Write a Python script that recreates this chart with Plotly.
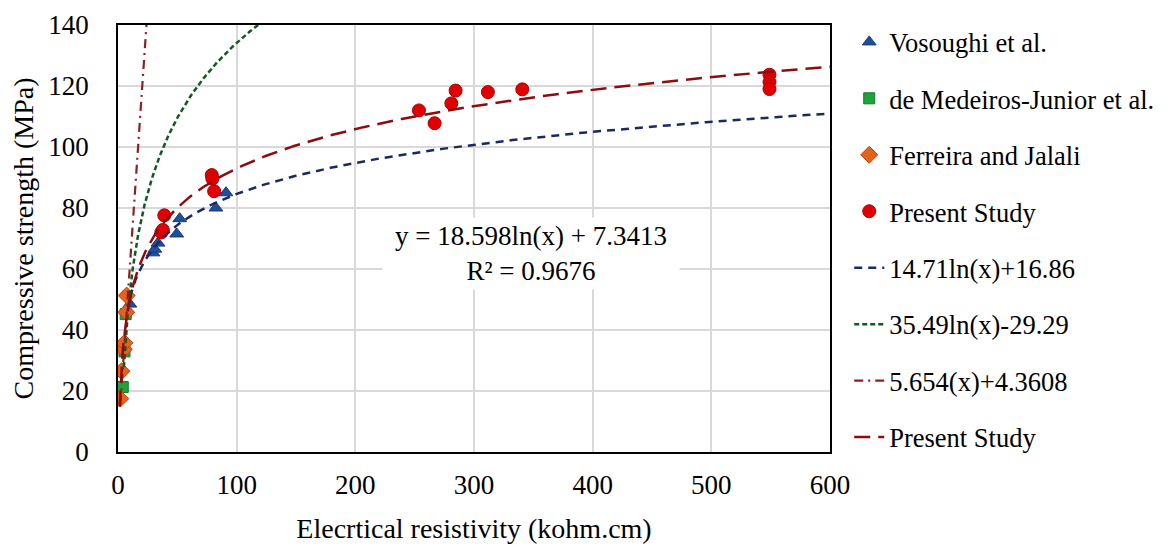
import numpy as np
import plotly.graph_objects as go

# ---- data ----
vos_x = [10, 29.5, 31, 33.7, 49.5, 52, 82.5, 91]
vos_y = [48.5, 65.3, 66.5, 68.5, 71.5, 76.5, 80.0, 85.0]

med_x = [4, 5.5, 6.5]
med_y = [21.3, 33.0, 45.2]

fer_x = [2, 3, 5, 5.5, 7, 7.3]
fer_y = [17.5, 26.5, 33.7, 35.8, 45.8, 51.3]

pres_x = [36.5, 37.8, 39, 79, 79.5, 81, 253.6, 266.8, 280.9, 284.5, 311.7, 340.7, 549, 549, 549]
pres_y = [72.0, 72.8, 77.6, 90.8, 89.6, 85.5, 112.0, 107.8, 114.3, 118.5, 118.0, 118.9, 123.7, 121.3, 119.0]

# trendline coefficients (from legend / equation label)
vos_fit = (14.71, 16.86)      # a*ln(x)+b
med_fit = (35.49, -29.29)     # a*ln(x)+b
fer_fit = (5.654, 4.3608)     # a*x+b
pres_fit = (18.598, 7.3413)   # a*ln(x)+b

x_ticks = [0, 100, 200, 300, 400, 500, 600]
y_ticks = [0, 20, 40, 60, 80, 100, 120, 140]

FONT = "Liberation Serif, Times New Roman, serif"

fig = go.Figure()

def mk(name, x, y, symbol, color, line_color, size):
    fig.add_trace(go.Scatter(
        x=x, y=y, mode="markers", name=name, legendgroup=name,
        marker=dict(symbol=symbol, color=color, size=size,
                    line=dict(color=line_color, width=1))))

mk("Vosoughi et al.", vos_x, vos_y, "triangle-up", "#1f4e9a", "#163a75", 12)
mk("de Medeiros-Junior et al.", med_x, med_y, "square", "#1fa33c", "#127a28", 11)
mk("Ferreira and Jalali", fer_x, fer_y, "diamond", "#e4621c", "#c0400c", 13)
mk("Present Study", pres_x, pres_y, "circle", "#e00000", "#b00000", 13)

xs_vos = np.linspace(10, 600, 400)
fig.add_trace(go.Scatter(x=xs_vos, y=vos_fit[0]*np.log(xs_vos)+vos_fit[1], mode="lines",
                         name="14.71ln(x)+16.86", legendgroup="l1",
                         line=dict(color="#1b2a5e", width=2.5, dash="8px,6px")))
xs_med = np.linspace(5, 120, 400)
fig.add_trace(go.Scatter(x=xs_med, y=med_fit[0]*np.log(xs_med)+med_fit[1], mode="lines",
                         name="35.49ln(x)-29.29", legendgroup="l2",
                         line=dict(color="#0e5a22", width=2.5, dash="5px,3px")))
xs_fer = np.linspace(2, 24, 100)
fig.add_trace(go.Scatter(x=xs_fer, y=fer_fit[0]*xs_fer+fer_fit[1], mode="lines",
                         name="5.654(x)+4.3608", legendgroup="l3",
                         line=dict(color="#8e2020", width=2.2, dash="9px,5px,2px,5px")))
xs_pres = np.linspace(1.5, 600, 800)
fig.add_trace(go.Scatter(x=xs_pres, y=pres_fit[0]*np.log(xs_pres)+pres_fit[1], mode="lines",
                         name="Present Study", legendgroup="l4",
                         line=dict(color="#8b0d0d", width=2.5, dash="16px,8px")))

fig.add_annotation(x=348, y=65, xref="x", yref="y",
                   text="y = 18.598ln(x) + 7.3413<br>R² = 0.9676",
                   showarrow=False, bgcolor="white", borderpad=3,
                   font=dict(family=FONT, size=27, color="black"), align="center",
                   width=290)

fig.update_layout(
    width=1152, height=536,
    margin=dict(l=110, r=330, t=17, b=92, autoexpand=False),
    paper_bgcolor="white", plot_bgcolor="white",
    font=dict(family=FONT, size=27, color="black"),
    legend=dict(x=1.027, xanchor="left", y=1.016, yanchor="top",
                xref="paper", yref="paper",
                font=dict(family=FONT, size=26.5, color="black"),
                tracegroupgap=19, traceorder="grouped", maxheight=600,
                itemwidth=30, bgcolor="rgba(0,0,0,0)"),
    xaxis=dict(range=[0, 600], tickvals=x_ticks, showgrid=True, gridcolor="#d9d9d9",
               gridwidth=1.5, zeroline=False, showline=True, linecolor="black",
               linewidth=1.5, mirror=True, ticks="", ticklabelstandoff=8,
               ticklabeloverflow="allow",
               title=dict(text="Elecrtical resistivity (kohm.cm)", standoff=30,
                          font=dict(size=28))),
    yaxis=dict(range=[0, 140], tickvals=y_ticks, showgrid=True, gridcolor="#d9d9d9",
               gridwidth=1.5, zeroline=False, showline=True, linecolor="black",
               linewidth=1.5, mirror=True, ticks="", ticklabelstandoff=22,
               ticklabeloverflow="allow",
               title=dict(text="Compressive strength (MPa)", standoff=12,
                          font=dict(size=28))),
)

fig.write_html("out.html")
